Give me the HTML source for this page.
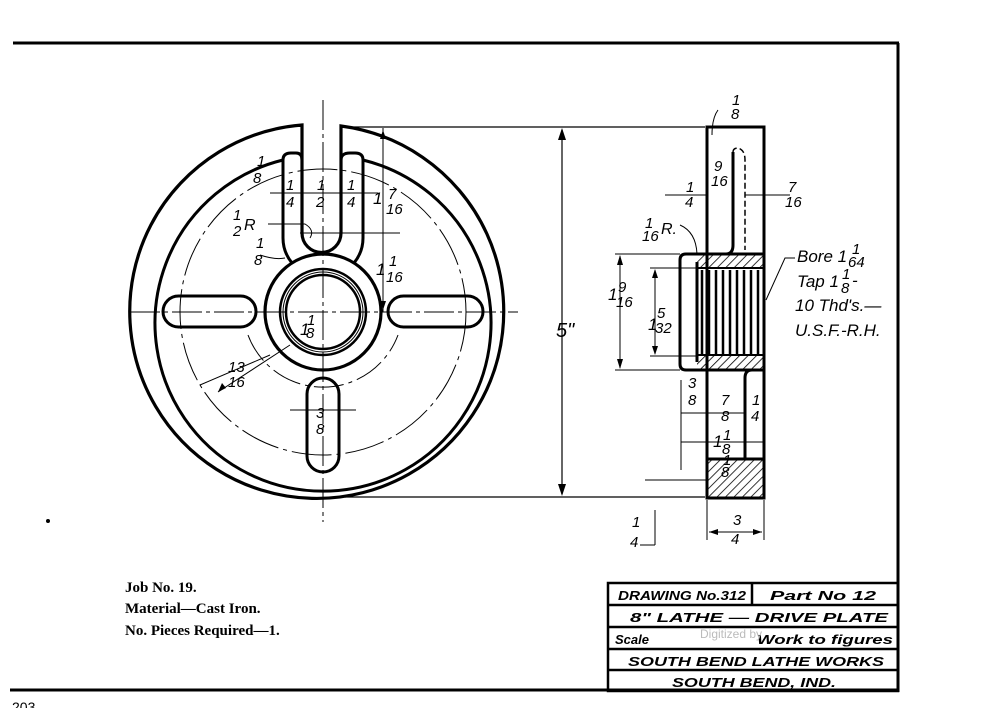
<!DOCTYPE html>
<html><head><meta charset="utf-8"><style>
html,body{margin:0;padding:0;background:#fff;}
svg{display:block;}
text{font-family:"Liberation Sans",sans-serif;font-style:italic;fill:#000;}
.b{font-family:"Liberation Serif",serif;font-style:normal;font-weight:bold;font-size:15px;}
</style></head><body>
<svg width="994" height="708" viewBox="0 0 994 708" xmlns="http://www.w3.org/2000/svg">
<defs>
<pattern id="h" width="6" height="6" patternUnits="userSpaceOnUse" patternTransform="rotate(45)">
<line x1="0" y1="0" x2="0" y2="6" stroke="#000" stroke-width="1.6"/></pattern>
</defs>
<!-- border -->
<line x1="13" y1="43" x2="899" y2="43" stroke="#000" stroke-width="3"/>
<line x1="898" y1="43" x2="898" y2="692" stroke="#000" stroke-width="3"/>
<line x1="10" y1="690" x2="899" y2="690" stroke="#000" stroke-width="3"/>
<text x="12" y="712" font-size="14" style="font-style:normal">203</text>

<g fill="none" stroke="#000">
<!-- center lines -->
<line x1="130" y1="312" x2="518" y2="312" stroke-width="1" stroke-dasharray="30,4,4,4"/>
<line x1="323" y1="100" x2="323" y2="522" stroke-width="1" stroke-dasharray="30,4,4,4"/>
<!-- outer profile with slot -->
<path d="M302,125 A187,187 0 1 0 341,126 L341,233 A19,19 0 0 1 302,233 Z" stroke-width="3.2"/>
<!-- inner circle interrupted by ribs -->
<path d="M283,160 A168,168 0 1 0 363,160" stroke-width="3"/>
<!-- ribs -->
<path d="M283,160 Q283,153 291,153 L296,153 Q302,153 302,160" stroke-width="3"/>
<path d="M363,160 Q363,153 355,153 L350,153 Q341,153 341,160" stroke-width="3"/>
<path d="M283,160 L283,238 Q283,252 292,263" stroke-width="3"/>
<path d="M363,160 L363,238 Q363,252 354,263" stroke-width="3"/>
<!-- hub -->
<circle cx="323" cy="312" r="58" stroke-width="3.2"/>
<circle cx="323" cy="312" r="43" stroke-width="2.5"/>
<circle cx="323" cy="312" r="40" stroke-width="1"/>
<circle cx="323" cy="312" r="37" stroke-width="2.5"/>
<!-- dash-dot circles -->
<circle cx="323" cy="312" r="143" stroke-width="1" stroke-dasharray="40,5,4,5"/>
<path d="M248,335 A80,80 0 0 0 398,335" stroke-width="1" stroke-dasharray="30,5,4,5"/>
<!-- slots -->
<rect x="163" y="296" width="93" height="31" rx="15.5" stroke-width="3"/>
<rect x="388" y="296" width="95" height="31" rx="15.5" stroke-width="3"/>
<rect x="307" y="378" width="32" height="94" rx="16" stroke-width="3"/>
<!-- 5" dim -->
<line x1="345" y1="127" x2="705" y2="127" stroke-width="1.2"/>
<line x1="345" y1="497" x2="705" y2="497" stroke-width="1.2"/>
<line x1="562" y1="130" x2="562" y2="494" stroke-width="1.2"/>
<line x1="383" y1="128" x2="383" y2="312" stroke-width="1"/>
<line x1="300" y1="233" x2="400" y2="233" stroke-width="1"/>
<line x1="270" y1="193" x2="378" y2="193" stroke-width="1"/>
<line x1="218" y1="392" x2="290" y2="345" stroke-width="1"/>
<line x1="200" y1="385" x2="270" y2="355" stroke-width="1"/>
<line x1="290" y1="410" x2="356" y2="410" stroke-width="1"/>
<path d="M268,224 L305,224 Q315,230 310,238" stroke-width="1"/>
<path d="M260,255 Q275,260 285,258" stroke-width="1"/>

<!-- side view -->
<rect x="707" y="127" width="57" height="371" stroke-width="3"/>
<rect x="707" y="459" width="57" height="39" fill="url(#h)" stroke-width="3"/>
<path d="M745,459 L745,378 Q745,370 752,370 L764,370" stroke-width="3"/>
<path d="M733,152 Q733,148 738,148 Q745,150 745,160 L745,250" stroke-width="1.5" stroke-dasharray="6,3"/>
<path d="M733,152 L733,245 Q733,254 726,254" stroke-width="3"/>
<path d="M686,254 L764,254 L764,370 L686,370 Q680,370 680,364 L680,260 Q680,254 686,254 Z" stroke-width="3"/>
<rect x="697" y="254" width="67" height="14" fill="url(#h)" stroke="none"/>
<rect x="697" y="355" width="67" height="15" fill="url(#h)" stroke="none"/>
<line x1="697" y1="268" x2="764" y2="268" stroke-width="2"/>
<line x1="697" y1="355" x2="764" y2="355" stroke-width="2"/>
<line x1="697" y1="262" x2="697" y2="362" stroke-width="3"/>
<g stroke-width="2.5">
<line x1="702" y1="270" x2="702" y2="354"/><line x1="709" y1="270" x2="709" y2="354"/>
<line x1="716" y1="270" x2="716" y2="354"/><line x1="723" y1="270" x2="723" y2="354"/>
<line x1="730" y1="270" x2="730" y2="354"/><line x1="737" y1="270" x2="737" y2="354"/>
<line x1="744" y1="270" x2="744" y2="354"/><line x1="751" y1="270" x2="751" y2="354"/>
<line x1="758" y1="270" x2="758" y2="354"/>
</g>
<!-- side dims -->
<line x1="615" y1="254" x2="680" y2="254" stroke-width="1"/>
<line x1="615" y1="370" x2="680" y2="370" stroke-width="1"/>
<line x1="620" y1="256" x2="620" y2="368" stroke-width="1"/>
<line x1="650" y1="268" x2="697" y2="268" stroke-width="1"/>
<line x1="650" y1="356" x2="697" y2="356" stroke-width="1"/>
<line x1="655" y1="270" x2="655" y2="354" stroke-width="1"/>
<line x1="681" y1="380" x2="681" y2="470" stroke-width="1"/>
<line x1="681" y1="413" x2="745" y2="413" stroke-width="1"/>
<line x1="681" y1="442" x2="764" y2="442" stroke-width="1"/>
<line x1="707" y1="500" x2="707" y2="540" stroke-width="1"/>
<line x1="764" y1="500" x2="764" y2="540" stroke-width="1"/>
<line x1="709" y1="532" x2="762" y2="532" stroke-width="1"/>
<line x1="645" y1="480" x2="707" y2="480" stroke-width="1"/>
<line x1="655" y1="510" x2="655" y2="545" stroke-width="1"/>
<line x1="640" y1="545" x2="655" y2="545" stroke-width="1"/>
<line x1="665" y1="195" x2="707" y2="195" stroke-width="1"/>
<line x1="745" y1="195" x2="790" y2="195" stroke-width="1"/>
<path d="M795,258 L785,258 L766,300" stroke-width="1"/>
<path d="M680,225 Q696,232 697,254" stroke-width="1"/>
<path d="M718,110 Q712,118 712,135" stroke-width="1"/>
</g>
<!-- arrowheads -->
<g fill="#000">
<path d="M562,128 l-4,12 h8z"/><path d="M562,496 l-4,-12 h8z"/>
<path d="M620,255 l-3,10 h6z"/><path d="M620,369 l-3,-10 h6z"/>
<path d="M655,269 l-3,9 h6z"/><path d="M655,355 l-3,-9 h6z"/>
<path d="M709,532 l9,-3 v6z"/><path d="M762,532 l-9,-3 v6z"/>
<path d="M383,130 l-3,9 h6z"/><path d="M383,310 l-3,-9 h6z"/>
<path d="M218,392 l4,-9 l4,5z"/>
</g>

<!-- labels front -->
<g font-size="15">
<text x="257" y="166">1</text><text x="253" y="183">8</text>
<text x="286" y="190">1</text><text x="286" y="207">4</text>
<text x="317" y="190">1</text><text x="316" y="207">2</text>
<text x="347" y="190">1</text><text x="347" y="207">4</text>
<text x="373" y="204" font-size="17">1</text><text x="388" y="199">7</text><text x="386" y="214">16</text>
<text x="233" y="220">1</text><text x="233" y="236">2</text><text x="244" y="230" font-size="16">R</text>
<text x="256" y="248">1</text><text x="254" y="265">8</text>
<text x="376" y="275" font-size="17">1</text><text x="389" y="266">1</text><text x="386" y="282">16</text>
<text x="300" y="335" font-size="17">1</text><text x="307" y="325">1</text><text x="306" y="338">8</text>
<text x="228" y="372">13</text><text x="228" y="387">16</text>
<text x="316" y="418">3</text><text x="316" y="434">8</text>
<text x="556" y="337" font-size="20">5"</text>
<!-- side labels -->
<text x="732" y="105">1</text><text x="731" y="119">8</text>
<text x="714" y="171">9</text><text x="711" y="186">16</text>
<text x="686" y="192">1</text><text x="685" y="207">4</text>
<text x="788" y="192">7</text><text x="785" y="207">16</text>
<text x="645" y="228">1</text><text x="642" y="241">16</text><text x="661" y="234" font-size="16">R.</text>
<text x="608" y="300" font-size="17">1</text><text x="618" y="292">9</text><text x="616" y="307">16</text>
<text x="648" y="330" font-size="17">1</text><text x="657" y="318">5</text><text x="655" y="333">32</text>
<text x="688" y="388">3</text><text x="688" y="405">8</text>
<text x="721" y="405">7</text><text x="721" y="421">8</text>
<text x="752" y="405">1</text><text x="751" y="421">4</text>
<text x="713" y="447" font-size="17">1</text><text x="723" y="440">1</text><text x="722" y="454">8</text>
<text x="723" y="465">1</text><text x="721" y="477">8</text>
<text x="733" y="525">3</text><text x="731" y="544">4</text>
<text x="632" y="527">1</text><text x="630" y="547">4</text>
<text x="797" y="262" font-size="17">Bore 1</text><text x="852" y="254">1</text><text x="848" y="267">64</text>
<text x="797" y="287" font-size="17">Tap 1</text><text x="842" y="279">1</text><text x="841" y="293">8</text><text x="852" y="286" font-size="17">-</text>
<text x="795" y="311" font-size="17">10 Thd's.—</text>
<text x="795" y="336" font-size="17">U.S.F.-R.H.</text>
</g>

<!-- notes -->
<text class="b" x="125" y="592">Job No. 19.</text>
<text class="b" x="125" y="613">Material—Cast Iron.</text>
<text class="b" x="125" y="635">No. Pieces Required—1.</text>

<!-- title block -->
<g fill="none" stroke="#000" stroke-width="2.5">
<rect x="608" y="583" width="290" height="108"/>
<line x1="608" y1="605" x2="898" y2="605"/>
<line x1="608" y1="627" x2="898" y2="627"/>
<line x1="608" y1="649" x2="898" y2="649"/>
<line x1="608" y1="670" x2="898" y2="670"/>
<line x1="752" y1="583" x2="752" y2="605"/>
</g>
<g font-size="13" font-weight="bold">
<text x="618" y="600" textLength="128" lengthAdjust="spacingAndGlyphs">DRAWING No.312</text>
<text x="770" y="600" textLength="106" lengthAdjust="spacingAndGlyphs">Part No 12</text>
<text x="630" y="622" textLength="258" lengthAdjust="spacingAndGlyphs">8" LATHE — DRIVE PLATE</text>
<text x="615" y="644">Scale</text>
<text x="757" y="644" textLength="136" lengthAdjust="spacingAndGlyphs">Work to figures</text>
<text x="628" y="666" textLength="256" lengthAdjust="spacingAndGlyphs">SOUTH BEND LATHE WORKS</text>
<text x="672" y="687" textLength="164" lengthAdjust="spacingAndGlyphs">SOUTH BEND, IND.</text>
</g>
<text x="700" y="638" font-size="12" style="fill:#bbb;font-style:normal">Digitized by</text>
<circle cx="48" cy="521" r="2" fill="#000"/>
</svg>
</body></html>
